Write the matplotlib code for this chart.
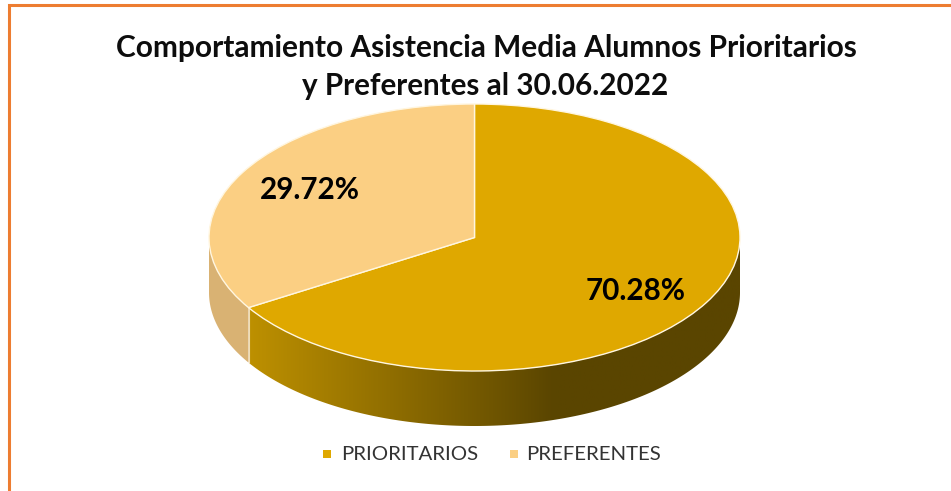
import matplotlib
matplotlib.use('Agg')
import matplotlib.pyplot as plt
from matplotlib.colors import LinearSegmentedColormap
from matplotlib.patches import Polygon, Rectangle
import numpy as np

# data
categories = ['PRIORITARIOS', 'PREFERENTES']
values = [70.28, 29.72]
value_labels = ['70.28%', '29.72%']
title_lines = ['Comportamiento Asistencia Media Alumnos Prioritarios',
               'y Preferentes al 30.06.2022']
colors = ['#DFA800', '#FBCF83']

plt.rcParams['font.family'] = ['Lato', 'DejaVu Sans']

W, H = 951, 491
CX, CY, RX, RY = 474.5, 237.5, 265.5, 133.5
DEPTH = 55 / RY
# the 3d view squeezes the slices a bit, first slice comes out smaller
VIEW = 0.942

fig = plt.figure(figsize=(W / 100, H / 100), dpi=100)
ax = fig.add_axes([0, 0, 1, 1])


def px(x):
    return (x - CX) / RX


def py(y):
    return (CY - y) / RY


shown = [values[0] * VIEW, 100 - values[0] * VIEW]
ax.pie(shown, colors=colors, startangle=90, counterclock=False,
       wedgeprops={'edgecolor': '#FFF6E0', 'linewidth': 1.0, 'zorder': 5})
ax.set_aspect('auto')
ax.axis('off')

# side walls
split = np.pi / 2 - 2 * np.pi * shown[0] / 100


def wall(t0, t1):
    t = np.linspace(t0, t1, 200)
    top = np.column_stack([np.cos(t), np.sin(t)])
    low = top[::-1] - [0, DEPTH]
    return np.vstack([top, low])


front = Polygon(wall(split, 0), closed=True, fc='none', ec='none')
ax.add_patch(front)
cmap = LinearSegmentedColormap.from_list(
    'side', [(0, '#BD9000'), (0.52, '#6B5200'), (0.62, '#5A4500'), (1, '#5A4500')])
grad = ax.imshow(np.linspace(0, 1, 256).reshape(1, -1), cmap=cmap, aspect='auto',
                 extent=[np.cos(split), 1, -1 - DEPTH, 1], zorder=2)
grad.set_clip_path(front)

ax.add_patch(Polygon(wall(-np.pi, split), closed=True, fc='#D9B273', ec='none', zorder=2))
ax.plot([np.cos(split)] * 2, [np.sin(split), np.sin(split) - DEPTH],
        color='#F0DDB5', lw=0.8, zorder=3)

# border, only left and top are in the crop
ax.plot([px(9.5), px(9.5), px(W)], [py(H), py(5.5), py(5.5)],
        color='#ED7D31', lw=2.2, solid_joinstyle='miter', zorder=6)

# title
ax.text(px(486), py(48), title_lines[0], fontsize=21.5, fontweight='bold',
        ha='center', va='center', color='#0D0D0D')
ax.text(px(485), py(86), title_lines[1], fontsize=21.3, fontweight='bold',
        ha='center', va='center', color='#0D0D0D')

# value labels
ax.text(px(635.5), py(291), value_labels[0], fontsize=21.3, fontweight='bold',
        ha='center', va='center', color='black', zorder=7)
ax.text(px(310), py(190), value_labels[1], fontsize=21.3, fontweight='bold',
        ha='center', va='center', color='black', zorder=7)

# legend
leg_x = [327, 514]
txt_x = [341, 526]
for i in range(2):
    ax.add_patch(Rectangle((px(leg_x[i] - 4), py(458)), 8 / RX, 8 / RY,
                           fc=colors[i], ec='none'))
    ax.text(px(txt_x[i]), py(454), categories[i], fontsize=14.7,
            ha='left', va='center', color='#333333')

ax.set_xlim(px(0), px(W))
ax.set_ylim(py(H), py(0))

fig.savefig('out.png', dpi=100, facecolor='white')
